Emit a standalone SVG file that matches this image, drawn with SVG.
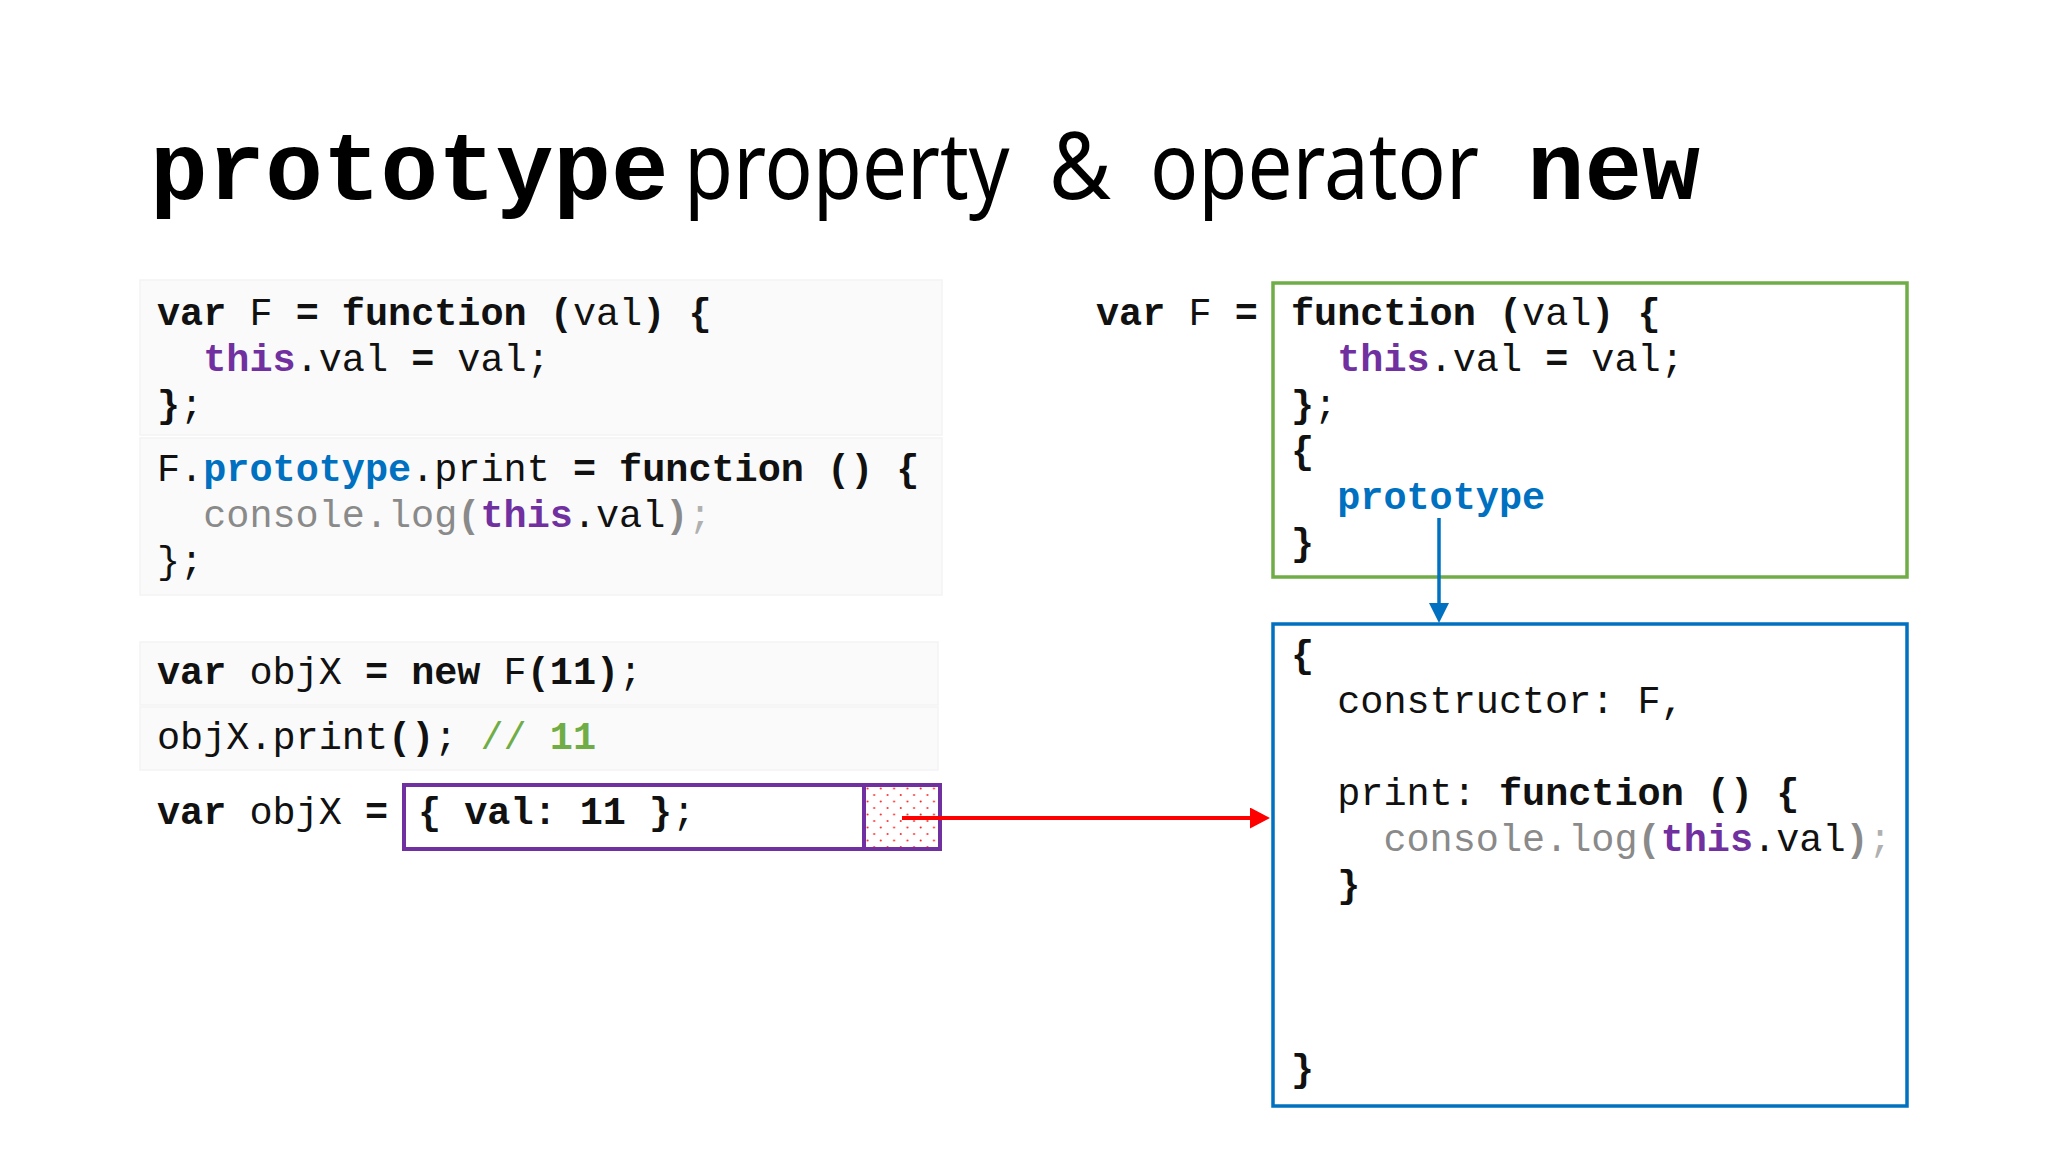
<svg xmlns="http://www.w3.org/2000/svg" width="2048" height="1152" viewBox="0 0 2048 1152">
<style>
text{white-space:pre}
.c{font-family:"Liberation Mono","Courier New",monospace;font-size:38.5px;fill:#111}
.b{font-weight:bold}
.p{fill:#7030a0}
.bl{fill:#0070c0}
.g{fill:#8a8a8a}
.lg{fill:#b0b0b0}
.gr{fill:#70ad47}
.t{font-family:"Liberation Mono","Courier New",monospace;font-size:96px;font-weight:bold;fill:#000}
.s{font-family:"Noto Sans","Open Sans",sans-serif;font-size:94px;fill:#000}
.blk{fill:#fafafa;stroke:#f3f3f3;stroke-width:1.5}
.box{fill:none;stroke-width:3.5}
</style>
<defs>
<marker id="arrRed" markerUnits="userSpaceOnUse" markerWidth="20" markerHeight="21" refX="0" refY="10.5" orient="auto">
<path d="M0,0 L20,10.5 L0,21 Z" fill="#ff0000"/>
</marker>
<marker id="arrBlue" markerUnits="userSpaceOnUse" markerWidth="20" markerHeight="20" refX="0" refY="10" orient="auto">
<path d="M0,0 L20,10 L0,20 Z" fill="#0070c0"/>
</marker>
<pattern id="dots" patternUnits="userSpaceOnUse" width="13.3" height="13" x="864" y="785">
<circle cx="3.5" cy="3.5" r="1" fill="#ff2020"/>
<circle cx="10.2" cy="10" r="1" fill="#ff2020"/>
</pattern>
</defs>
<rect width="2048" height="1152" fill="#ffffff"/>
<g id="title">
<text class="t" x="150" y="199">prototype</text>
<text class="s" transform="translate(684,199) scale(0.85,1)" x="0" y="0">property</text>
<text class="s" transform="translate(1049,199) scale(0.9,1)" x="0" y="0">&amp;</text>
<text class="s" transform="translate(1150,199) scale(0.85,1)" x="0" y="0">operator</text>
<text class="t" x="1527" y="199">new</text>
</g>
<g id="code-constructor">
<rect class="blk" x="140" y="280" width="802" height="155"/>
<text class="c" x="157" y="325"><tspan class="b">var</tspan> F <tspan class="b">= function (</tspan>val<tspan class="b">) {</tspan></text>
<text class="c" x="203.2" y="371"><tspan class="b p">this</tspan>.val <tspan class="b">=</tspan> val;</text>
<text class="c" x="157" y="417"><tspan class="b">}</tspan>;</text>
</g>
<g id="code-prototype">
<rect class="blk" x="140" y="438" width="802" height="157"/>
<text class="c" x="157" y="481">F.<tspan class="b bl">prototype</tspan>.print <tspan class="b">= function () {</tspan></text>
<text class="c" x="203.2" y="527"><tspan class="g">console.log</tspan><tspan class="g b">(</tspan><tspan class="b p">this</tspan>.val<tspan class="g b">)</tspan><tspan class="lg">;</tspan></text>
<text class="c" x="157" y="573">};</text>
</g>
<g id="code-new">
<rect class="blk" x="140" y="642" width="798" height="63"/>
<text class="c" x="157" y="684"><tspan class="b">var</tspan> objX <tspan class="b">= new</tspan> F<tspan class="b">(11)</tspan>;</text>
</g>
<g id="code-print">
<rect class="blk" x="140" y="707" width="798" height="63"/>
<text class="c" x="157" y="749">objX.print<tspan class="b">()</tspan>; <tspan class="gr">// <tspan class="b">11</tspan></tspan></text>
</g>
<g id="objX">
<text class="c" x="157" y="824"><tspan class="b">var</tspan> objX <tspan class="b">=</tspan></text>
<rect x="864" y="785" width="76" height="64" fill="url(#dots)"/>
<rect x="404" y="785" width="536" height="64" fill="none" stroke="#7030a0" stroke-width="4"/>
<line x1="864" y1="785" x2="864" y2="849" stroke="#7030a0" stroke-width="4"/>
<text class="c" x="418" y="824"><tspan class="b">{ val: 11 }</tspan>;</text>
</g>
<g id="function-F">
<text class="c" x="1096" y="325"><tspan class="b">var</tspan> F <tspan class="b">=</tspan></text>
<rect class="box" x="1273" y="283" width="634" height="294" stroke="#70ad47"/>
<text class="c" x="1291" y="325"><tspan class="b">function (</tspan>val<tspan class="b">) {</tspan></text>
<text class="c" x="1337.2" y="371"><tspan class="b p">this</tspan>.val <tspan class="b">=</tspan> val;</text>
<text class="c" x="1291" y="417"><tspan class="b">}</tspan>;</text>
<text class="c b" x="1291" y="463">{</text>
<text class="c b bl" x="1337.2" y="509">prototype</text>
<text class="c b" x="1291" y="555">}</text>
</g>
<g id="prototype-object">
<rect class="box" x="1273" y="624" width="634" height="482" stroke="#0070c0"/>
<text class="c b" x="1291" y="667">{</text>
<text class="c" x="1337.2" y="713">constructor: F,</text>
<text class="c" x="1337.2" y="805">print: <tspan class="b">function () {</tspan></text>
<text class="c" x="1383.4" y="851"><tspan class="g">console.log</tspan><tspan class="g b">(</tspan><tspan class="b p">this</tspan>.val<tspan class="g b">)</tspan><tspan class="lg">;</tspan></text>
<text class="c b" x="1337.2" y="897">}</text>
<text class="c b" x="1291" y="1081">}</text>
</g>
<g id="connectors">
<line x1="1439" y1="518" x2="1439" y2="603" stroke="#0070c0" stroke-width="3.5" marker-end="url(#arrBlue)"/>
<line x1="902" y1="818" x2="1250" y2="818" stroke="#ff0000" stroke-width="4" marker-end="url(#arrRed)"/>
</g>
</svg>
